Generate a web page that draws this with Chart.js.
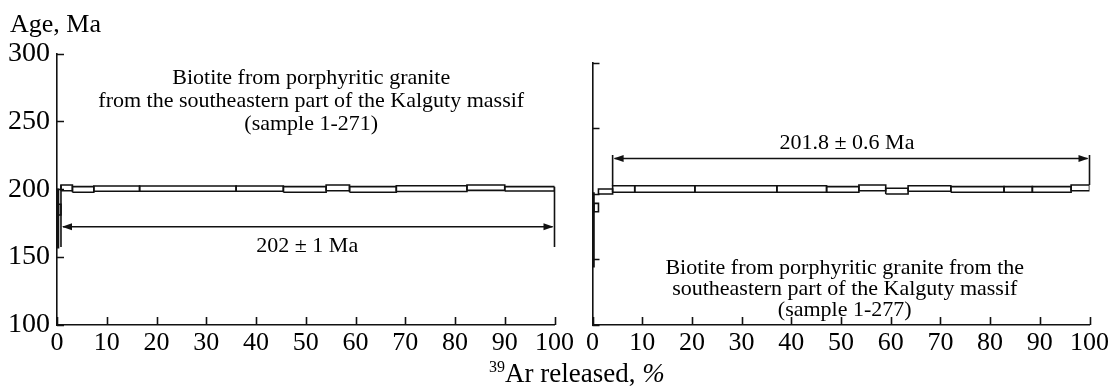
<!DOCTYPE html>
<html>
<head>
<meta charset="utf-8">
<script src="https://cdn.jsdelivr.net/npm/chart.js@4.4.1/dist/chart.umd.min.js"></script>
<style>
  body { margin: 0; background: #fff; }
  #wrap { position: relative; width: 1112px; height: 386px; overflow: hidden; background: #fff; }
  #wrap canvas { position: absolute; left: 0; top: 0; }
  .lbl { position: absolute; font-family: "Liberation Serif", "Times New Roman", serif; color: #000; white-space: nowrap; line-height: 1; }
  .lbl sup { font-size: 16px; vertical-align: 0; position: relative; top: -10px; }
</style>
</head>
<body>
<div id="wrap">
  <canvas id="c1271" width="1112" height="386"></canvas>
  <canvas id="c1277" width="1112" height="386"></canvas>
  <div class="lbl" style="left:10px; top:11px; font-size:26px;">Age, Ma</div>
  <div class="lbl" style="left:489px; top:360px; font-size:27px;"><sup>39</sup>Ar released, <i>%</i></div>
</div>
<script>
// Ar–Ar step-heating spectra: cumulative 39Ar released (%) at step boundaries,
// with the lower and upper age bounds (Ma) of each heating step.
const xTickValues = [0, 10, 20, 30, 40, 50, 60, 70, 80, 90, 100];
const yTickValues = [100, 150, 200, 250, 300];

// sample 1-271
const edges1271 = [0, 0.3, 0.8, 3.1, 7.4, 16.6, 36.0, 45.5, 54.1, 58.8, 68.2, 82.4, 90.0, 100];
const low1271   = [157, 181, 198.9, 197.8, 198.5, 198.5, 198.5, 197.8, 198.9, 197.8, 198.3, 199.2, 198.7];
const high1271  = [200, 189, 203.1, 201.9, 202.4, 202.4, 202.4, 201.9, 203.1, 201.9, 202.6, 203.1, 201.9];
const plateau1271 = [0.8, 100];
const plateauLabel1271 = '202 ± 1 Ma';
const note1271 = ['Biotite from porphyritic granite',
                  'from the southeastern part of the Kalguty massif',
                  '(sample 1-271)'];

// sample 1-277
const edges1277 = [0, 0.3, 1.2, 4.05, 8.5, 20.6, 37.1, 47.1, 53.6, 59.0, 63.5, 72.1, 82.8, 88.5, 96.3, 100];
const low1277   = [144.5, 186.3, 199.8, 201.1, 201.1, 201.1, 201.1, 201.1, 202.3, 199.8, 201.9, 201.1, 201.1, 201.1, 202.3];
const high1277  = [200.5, 192.7, 203.6, 206.1, 206.1, 206.1, 206.1, 205.4, 206.7, 204.2, 206.1, 205.4, 205.4, 205.4, 206.7];
const plateau1277 = [4.05, 100];
const plateauLabel1277 = '201.8 ± 0.6 Ma';
const note1277 = ['Biotite from porphyritic granite from the',
                  'southeastern part of the Kalguty massif',
                  '(sample 1-277)'];

const SERIF = '"Liberation Serif", "Times New Roman", serif';
const INK = '#111';
const LW = 1.6;

// One closed rectangle per heating step
function stepDatasets(edges, low, high) {
  return low.map((lo, i) => {
    const x0 = edges[i], x1 = edges[i + 1], hi = high[i];
    return {
      data: [{x: x0, y: lo}, {x: x1, y: lo}, {x: x1, y: hi}, {x: x0, y: hi}, {x: x0, y: lo}],
      showLine: true, fill: false, tension: 0,
      borderColor: INK, borderWidth: LW,
      pointRadius: 0, pointHoverRadius: 0
    };
  });
}

// Inward tick marks, plateau bracket with arrows, and text notes
const decorations = {
  id: 'decorations',
  afterDatasetsDraw(chart, args, o) {
    const {ctx, chartArea: a, scales: {x, y}} = chart;
    ctx.save();
    ctx.strokeStyle = INK;
    ctx.fillStyle = INK;
    ctx.lineWidth = LW;
    ctx.lineCap = 'butt';

    ctx.beginPath();
    x.ticks.forEach(t => {
      const px = Math.round(x.getPixelForValue(t.value)) + 0.5;
      ctx.moveTo(px, a.bottom); ctx.lineTo(px, a.bottom - o.xTickLen);
    });
    y.ticks.forEach(t => {
      const py = Math.round(y.getPixelForValue(t.value)) + 0.5;
      ctx.moveTo(a.left, py); ctx.lineTo(a.left + o.yTickLen, py);
    });
    ctx.stroke();

    // plateau bracket
    const p = o.plateau;
    const xa = x.getPixelForValue(p.range[0]);
    const xb = x.getPixelForValue(p.range[1]);
    const ya = y.getPixelForValue(p.arrowAt);
    ctx.beginPath();
    ctx.moveTo(xa, y.getPixelForValue(p.leftFrom)); ctx.lineTo(xa, y.getPixelForValue(p.leftTo));
    ctx.moveTo(xb, y.getPixelForValue(p.rightFrom)); ctx.lineTo(xb, y.getPixelForValue(p.rightTo));
    ctx.moveTo(xa + 2, ya); ctx.lineTo(xb - 2, ya);
    ctx.stroke();
    const head = (tipX, dir) => {
      ctx.beginPath();
      ctx.moveTo(tipX, ya);
      ctx.lineTo(tipX + dir * 10, ya - 3.5);
      ctx.lineTo(tipX + dir * 10, ya + 3.5);
      ctx.closePath();
      ctx.fill();
    };
    head(xa + 1, 1);
    head(xb - 1, -1);

    // notes
    ctx.font = o.fontSize + 'px ' + SERIF;
    ctx.textAlign = 'center';
    ctx.textBaseline = 'middle';
    ctx.fillStyle = '#000';
    o.notes.forEach(n => {
      ctx.fillText(n.text, x.getPixelForValue(n.x), y.getPixelForValue(n.y));
    });
    ctx.restore();
  }
};

function spectrumChart(id, edges, low, high, layout, deco) {
  return new Chart(document.getElementById(id), {
    type: 'scatter',
    data: { datasets: stepDatasets(edges, low, high) },
    plugins: [decorations],
    options: {
      responsive: false,
      animation: false,
      events: [],
      layout: { padding: { top: layout.top, right: layout.right, left: 0, bottom: 0 } },
      plugins: {
        legend: { display: false },
        tooltip: { enabled: false },
        decorations: deco
      },
      scales: {
        x: {
          type: 'linear', min: 0, max: 100,
          afterBuildTicks: s => { s.ticks = xTickValues.map(v => ({ value: v })); },
          afterFit: s => { s.height = layout.xAxisHeight; },
          ticks: {
            display: true, autoSkip: false, maxRotation: 0, minRotation: 0,
            color: '#000', padding: 3,
            font: { family: SERIF, size: 26 }
          },
          grid: { drawOnChartArea: false, drawTicks: false },
          border: { display: true, color: INK, width: LW }
        },
        y: {
          type: 'linear', min: 100, max: 300,
          afterBuildTicks: s => { s.ticks = yTickValues.map(v => ({ value: v })); },
          afterFit: s => { s.width = layout.yAxisWidth; },
          ticks: {
            display: layout.showYLabels, color: '#000', padding: 7,
            font: { family: SERIF, size: 28 }
          },
          grid: { drawOnChartArea: false, drawTicks: false },
          border: { display: true, color: INK, width: LW }
        }
      }
    }
  });
}

spectrumChart('c1271', edges1271, low1271, high1271,
  { top: 53.5, right: 557.5, xAxisHeight: 61, yAxisWidth: 57, showYLabels: true },
  {
    xTickLen: 8, yTickLen: 7, fontSize: 22,
    plateau: { range: plateau1271, arrowAt: 172.4,
               leftFrom: 203.1, leftTo: 157.5, rightFrom: 201.9, rightTo: 157.5 },
    notes: [
      { text: note1271[0], x: 51.1, y: 281.9 },
      { text: note1271[1], x: 51.1, y: 265.0 },
      { text: note1271[2], x: 51.1, y: 248.1 },
      { text: plateauLabel1271, x: 50.3, y: 158.2 }
    ]
  });

spectrumChart('c1277', edges1277, low1277, high1277,
  { top: 62.5, right: 22, xAxisHeight: 61, yAxisWidth: 592.5, showYLabels: false },
  {
    xTickLen: 8, yTickLen: 7, fontSize: 22,
    plateau: { range: plateau1277, arrowAt: 226.9,
               leftFrom: 229.5, leftTo: 206.1, rightFrom: 229.5, rightTo: 206.7 },
    notes: [
      { text: plateauLabel1277, x: 51.2, y: 238.7 },
      { text: note1277[0], x: 50.75, y: 143.4 },
      { text: note1277[1], x: 50.75, y: 127.4 },
      { text: note1277[2], x: 50.75, y: 111.4 }
    ]
  });
</script>
</body>
</html>
